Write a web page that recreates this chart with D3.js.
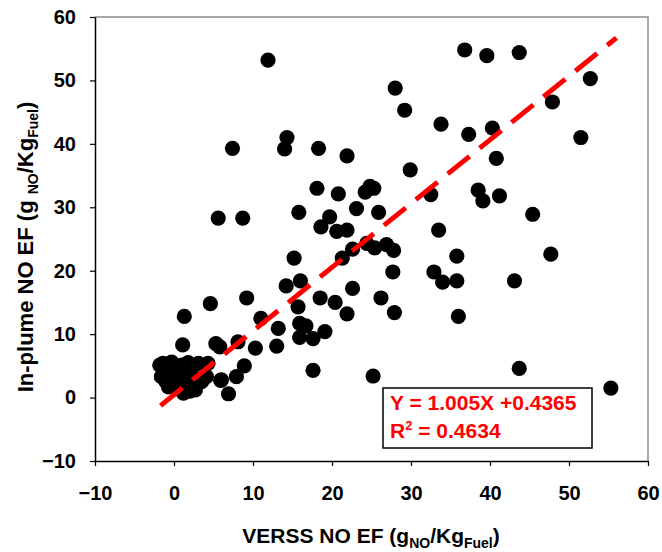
<!DOCTYPE html>
<html>
<head>
  <meta charset="utf-8">
  <title>NO EF scatter</title>
  <script src="https://cdn.jsdelivr.net/npm/d3@7"></script>
  <style>
    body { margin: 0; background: #fff; }
    text { font-family: "Liberation Sans", Arial, sans-serif; font-weight: bold; }
  </style>
</head>
<body>
  <svg width="662" height="552" id="mainsvg"></svg>
  <script>
    // VERSS NO EF (x) vs in-plume NO EF (y)
    const xVals = [
      11.9, 7.4, 14.3, 14.0, 18.3, 21.9, 18.1, 20.8, 24.2, 24.8, 25.3, 23.1, 25.9, 5.6, 8.7,
      15.8, 19.7, 18.6, 20.6, 21.9,
      36.8, 39.6, 43.7, 52.7, 28.0, 29.2, 47.9, 33.8, 37.3, 40.3, 51.5, 40.8, 29.9, 32.5,
      38.5, 39.1, 41.2, 45.4, 33.5,
      24.4, 25.4, 26.9, 27.8, 22.6, 21.3, 35.8, 47.7, 27.7, 32.9, 34.0, 35.8, 43.1,
      26.2, 27.9, 36.0, 25.2, 43.7, 55.3,
      15.2, 14.2, 16.0, 22.6, 18.5, 20.4, 21.9, 15.7, 9.2, 4.6, 1.3, 11.0, 13.2, 15.9, 16.7,
      15.9, 17.6, 19.1, 13.0, 10.3, 8.1, 5.3, 5.8, 1.1, 8.9, 7.9, 6.9, 5.9, 17.6,
      -1.4, -1.6, -0.7, 1.0, 0.3, 1.2, 2.7, 3.1, 4.3, 2.2, 4.1, 6.0, -0.5, 1.6, -1.8,
      0.0, 0.5, 1.5, 2.5, -1.0, 0.8, 3.5, 1.8, -0.3, 2.0
    ];
    const yVals = [
      53.2, 39.3, 41.0, 39.2, 39.3, 38.1, 33.0, 32.1, 32.4, 33.3, 33.0, 29.8, 29.2, 28.3, 28.3,
      29.2, 28.5, 26.9, 26.2, 26.4,
      54.8, 53.9, 54.4, 50.3, 48.8, 45.3, 46.6, 43.1, 41.5, 42.5, 41.0, 37.7, 35.9, 32.0,
      32.7, 31.0, 31.8, 28.9, 26.4,
      24.3, 23.6, 24.1, 23.2, 23.4, 22.0, 22.3, 22.6, 19.8, 19.8, 18.2, 18.4, 18.4,
      15.7, 13.4, 12.8, 3.4, 4.6, 1.5,
      22.0, 17.6, 18.4, 17.2, 15.7, 15.0, 13.2, 14.3, 15.7, 14.8, 12.8, 12.5, 10.9, 11.7, 11.3,
      9.5, 9.3, 10.4, 8.1, 7.8, 8.8, 8.5, 8.0, 8.3, 5.0, 3.3, 0.6, 2.7, 4.3,
      5.4, 3.3, 1.7, 5.1, 2.8, 0.7, 1.2, 5.4, 5.4, 3.8, 3.3, 2.8, 4.1, 3.0, 5.1,
      4.5, 3.5, 4.5, 2.0, 2.5, 1.5, 2.5, 5.5, 5.6, 1.0
    ];
    const xTicks = [-10, 0, 10, 20, 30, 40, 50, 60];
    const yTicks = [-10, 0, 10, 20, 30, 40, 50, 60];
    const fitSlope = 1.005;
    const fitIntercept = 0.4365;
    const fitRange = [-1.7, 56];
    const fitLabel = 'Y = 1.005X +0.4365';
    const r2Label = '0.4634';

    const points = xVals.map((x, i) => ({ x: x, y: yVals[i] }));

    const svg = d3.select('#mainsvg');
    const margin = { top: 17, right: 14, bottom: 91, left: 95 };
    const width = +svg.attr('width');
    const height = +svg.attr('height');
    const innerWidth = width - margin.left - margin.right;
    const innerHeight = height - margin.top - margin.bottom;

    const g = svg.append('g')
      .attr('transform', `translate(${margin.left}, ${margin.top})`);

    const xScale = d3.scaleLinear().domain([-10, 60]).range([0, innerWidth]);
    const yScale = d3.scaleLinear().domain([-10, 60]).range([innerHeight, 0]);

    // frame (top / right in grey)
    g.append('path')
      .attr('d', `M0,0H${innerWidth}V${innerHeight}`)
      .attr('fill', 'none')
      .attr('stroke', '#8c8c8c')
      .attr('stroke-width', 1.5);

    // axes
    const xAxis = g.append('g')
      .attr('transform', `translate(0, ${innerHeight})`)
      .call(d3.axisBottom(xScale).tickValues(xTicks).tickSize(5).tickSizeOuter(0).tickPadding(20));
    const yAxis = g.append('g')
      .call(d3.axisLeft(yScale).tickValues(yTicks).tickSize(5).tickSizeOuter(0).tickPadding(14));
    [xAxis, yAxis].forEach(a => {
      a.attr('font-size', 20).attr('font-family', null);
      a.select('.domain').attr('stroke', '#000').attr('stroke-width', 1.5);
      a.selectAll('.tick line').attr('stroke', '#000').attr('stroke-width', 1.2);
      a.selectAll('.tick text')
        .attr('fill', '#000')
        .style('font-size', '20px');
    });

    // points
    g.selectAll('circle').data(points).join('circle')
      .attr('cx', d => xScale(d.x))
      .attr('cy', d => yScale(d.y))
      .attr('r', 7.6)
      .attr('fill', '#000');

    // regression line
    const fit = fitRange.map(x => ({ x: x, y: fitSlope * x + fitIntercept }));
    g.append('path')
      .datum(fit)
      .attr('d', d3.line().x(d => xScale(d.x)).y(d => yScale(d.y)))
      .attr('fill', 'none')
      .attr('stroke', '#ff0000')
      .attr('stroke-width', 5)
      .attr('stroke-dasharray', '28,13');

    // equation box
    const box = svg.append('g').attr('transform', 'translate(383, 388)');
    box.append('rect')
      .attr('width', 209).attr('height', 60)
      .attr('fill', '#fff')
      .attr('stroke', '#000')
      .attr('stroke-width', 1.5);
    box.append('text')
      .attr('x', 7).attr('y', 22)
      .attr('fill', '#ff0000')
      .style('font-size', '21px')
      .text(fitLabel);
    const r2 = box.append('text')
      .attr('x', 7).attr('y', 50)
      .attr('fill', '#ff0000')
      .style('font-size', '21px');
    r2.append('tspan').text('R');
    r2.append('tspan').attr('dy', -8).style('font-size', '13px').text('2');
    r2.append('tspan').attr('dy', 8).text(' = ' + r2Label);

    // x axis title
    const xt = svg.append('text')
      .attr('x', 371)
      .attr('y', 543)
      .attr('text-anchor', 'middle')
      .style('font-size', '21px');
    xt.append('tspan').text('VERSS NO EF (g');
    xt.append('tspan').attr('dy', 5).style('font-size', '14px').text('NO');
    xt.append('tspan').attr('dy', -5).text('/Kg');
    xt.append('tspan').attr('dy', 5).style('font-size', '14px').text('Fuel');
    xt.append('tspan').attr('dy', -5).text(')');

    // y axis title
    const yt = svg.append('text')
      .attr('transform', 'translate(33, 247) rotate(-90)')
      .attr('text-anchor', 'middle')
      .style('font-size', '22px');
    yt.append('tspan').text('In-plume NO EF (g ');
    yt.append('tspan').attr('dy', 5).style('font-size', '14px').text('NO');
    yt.append('tspan').attr('dy', -5).text('/Kg');
    yt.append('tspan').attr('dy', 5).style('font-size', '14px').text('Fuel');
    yt.append('tspan').attr('dy', -5).text(')');
  </script>
</body>
</html>
